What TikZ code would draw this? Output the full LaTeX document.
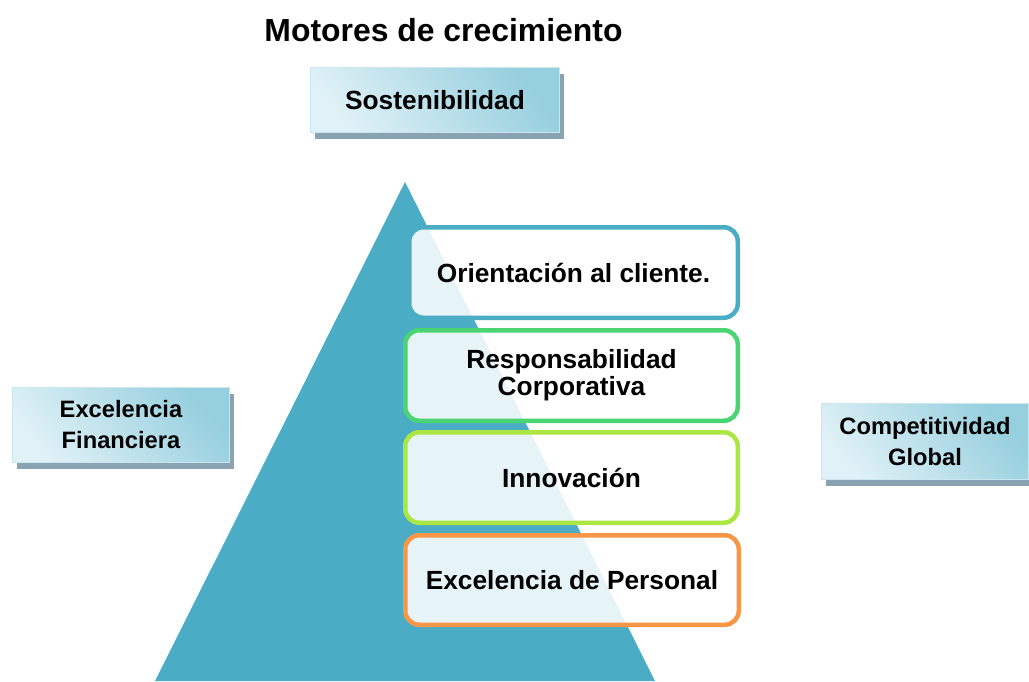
\documentclass[tikz,border=0pt]{standalone}
\usepackage{fontspec}
\setmainfont{Liberation Sans}
\usetikzlibrary{shadows}
\definecolor{pyramid}{RGB}{75,172,198}
\definecolor{clientline}{RGB}{75,172,198}
\definecolor{corpline}{RGB}{74,212,114}
\definecolor{innovline}{RGB}{172,230,66}
\definecolor{staffline}{RGB}{247,150,70}
\definecolor{sidelight}{RGB}{224,241,247}
\definecolor{sidedark}{RGB}{150,207,222}
\definecolor{sideshadow}{RGB}{138,163,178}

\begin{document}
\begin{tikzpicture}[x=1pt,y=-1pt]
            \tikzset{sidebox/.style={draw=sidelight!70!sidedark, line width=1pt,
                top color=sidedark, bottom color=sidelight, shading angle=-50,
                drop shadow={shadow xshift=4pt, shadow yshift=-6pt, opacity=1, fill=sideshadow},
                align=center, inner sep=0pt, font=\fontsize{23.7}{31}\selectfont\bfseries}};
            \tikzset{midbox/.style={rounded corners=14pt, line width=4.5pt,
                fill=white, fill opacity=0.87, text opacity=1,
                minimum height=90.5pt, align=center, inner sep=0pt,
                font=\fontsize{26.3}{27}\selectfont\bfseries}};

            \useasboundingbox (0,0) rectangle (1029,681);

            \node[font=\fontsize{31.9}{36}\selectfont\bfseries] (title) at (443.5,30) {Motores de crecimiento};

            \coordinate (apex) at (405,182);
            \coordinate (baseL) at (155,681);
            \coordinate (baseR) at (655,681);
            \fill[pyramid] (apex) -- (baseL) -- (baseR) -- cycle;

            \node[sidebox, minimum width=249pt, minimum height=65pt, font=\fontsize{26.3}{31}\selectfont\bfseries] (sost) at (435,100) {Sostenibilidad};
            \node[sidebox, minimum width=217pt, minimum height=75pt] (fin) at (121,425) {Excelencia\\Financiera};
            \node[sidebox, minimum width=207pt, minimum height=76pt] (comp) at (925,441.5) {Competitividad\\Global};

            \node[midbox, draw=clientline, minimum width=328.5pt] (client) at (573.5,272.5) {Orientación al cliente.};
            \node[midbox, draw=corpline, minimum width=332.5pt] (corp) at (571.5,375.5) {Responsabilidad\\Corporativa};
            \node[midbox, draw=innovline, minimum width=332.5pt] (innov) at (571.5,477.5) {Innovación};
            \node[midbox, draw=staffline, minimum width=333.5pt, minimum height=89.5pt] (staff) at (572,580) {Excelencia de Personal};
        \end{tikzpicture}
\end{document}
